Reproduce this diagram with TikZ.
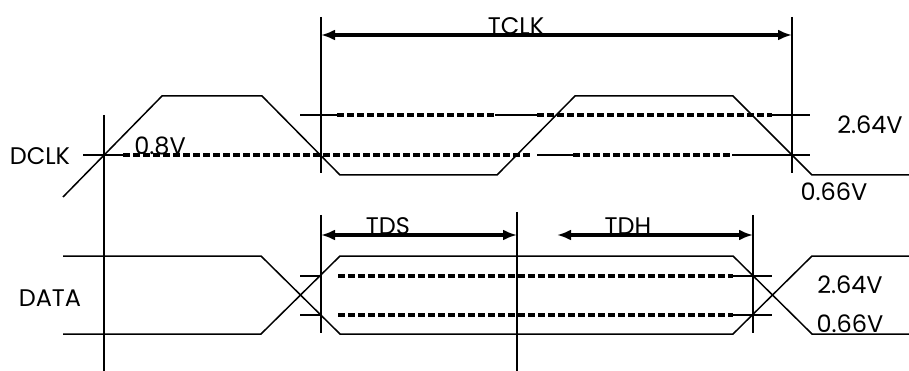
\documentclass[tikz,border=0pt]{standalone}
\usepackage{fontspec}
\setmainfont{Poppins}
\usetikzlibrary{arrows.meta}
\begin{document}
\begin{tikzpicture}[x=1pt,y=-1pt,
  wave/.style={line width=1.5pt, line join=miter},
  solidthr/.style={line width=1.5pt},
  thr/.style={line width=3.2pt, dash pattern=on 7pt off 3pt},
  dim/.style={line width=3.2pt, {Latex[length=14pt,width=11pt]}-{Latex[length=14pt,width=11pt]}},
  lbl/.style={inner sep=0pt, anchor=base, font=\fontsize{24}{24}\selectfont}]
\useasboundingbox (0,0) rectangle (909,371);
\fill[white] (0,0) rectangle (909,371);

% DCLK waveform
\draw[wave] (63,197) -- (162,96) -- (262,96) -- (340,175) -- (497,175) -- (575,96) -- (733,96) -- (812,175) -- (909,175);

% vertical reference lines
\draw[solidthr] (104,115) -- (104,371);
\draw[solidthr] (321,17) -- (321,173);
\draw[solidthr] (792,17) -- (792,173);
\draw[solidthr] (321,215) -- (321,333);
\draw[solidthr] (517,212) -- (517,371);
\draw[solidthr] (753,215) -- (753,333);

% DCLK thresholds, upper (2.64V)
\draw[solidthr] (300,115) -- (337,115);
\draw[thr] (337,115) -- (495,115);
\draw[solidthr] (495,115) -- (537,115);
\draw[thr] (537,115) -- (772,115);
\draw[solidthr] (772,115) -- (810,115);
% DCLK thresholds, lower (0.8V)
\draw[solidthr] (83,155) -- (123,155);
\draw[thr] (123,155) -- (532,155);
\draw[solidthr] (537,155) -- (573,155);
\draw[thr] (573,155) -- (732,155);
\draw[solidthr] (732,155) -- (810,155);

% DATA waveform
\draw[wave] (63,256) -- (261,256) -- (340,334) -- (733,334) -- (812,256) -- (909,256);
\draw[wave] (63,334) -- (261,334) -- (340,256) -- (733,256) -- (812,334) -- (909,334);

% DATA thresholds
\foreach \yy in {276,315} {
  \draw[solidthr] (300,\yy) -- (321,\yy);
  \draw[thr] (338,\yy) -- (733,\yy);
  \draw[solidthr] (733,\yy) -- (772,\yy);
}

% dimension arrows
\coordinate (tclkL) at (321,35);
\coordinate (tclkR) at (792,35);
\coordinate (tdsL) at (321,235);
\coordinate (tdsR) at (517,235);
\coordinate (tdhL) at (557,235);
\coordinate (tdhR) at (753,235);
\draw[dim] (tclkL) -- (tclkR);
\draw[dim] (tdsL) -- (tdsR);
\draw[dim] (tdhL) -- (tdhR);

% labels
\node[lbl] (dclk) at (40,165) {DCLK};
\node[lbl] (v08) at (160,155) {0.8V};
\node[lbl] (tclk) at (516,35) {TCLK};
\node[lbl] (v264a) at (870,134) {2.64V};
\node[lbl] (v066a) at (834,201) {0.66V};
\node[lbl] (data) at (50,306) {DATA};
\node[lbl] (tds) at (388,234) {TDS};
\node[lbl] (tdh) at (628,234) {TDH};
\node[lbl] (v264b) at (850,293) {2.64V};
\node[lbl] (v066b) at (850,332) {0.66V};
\end{tikzpicture}
\end{document}
